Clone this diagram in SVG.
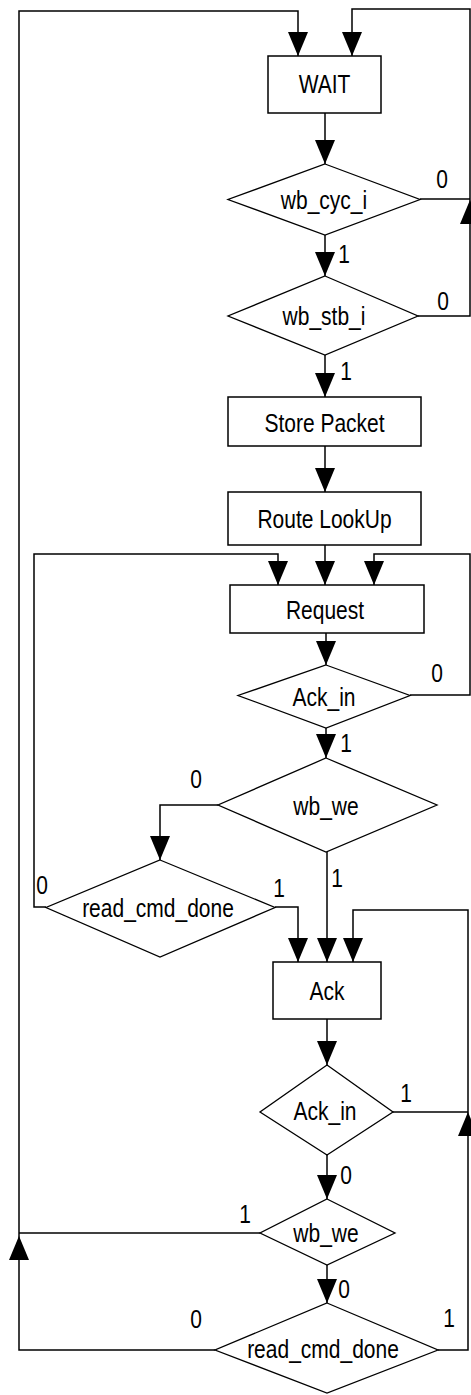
<svg xmlns="http://www.w3.org/2000/svg" width="471" height="1395" viewBox="0 0 471 1395">
<defs>
<style>
.bg{fill:#fff}
.box{fill:#fff;stroke:#000;stroke-width:1.5}
.dia{fill:#fff;stroke:#000;stroke-width:1.3}
.ln{fill:none;stroke:#000;stroke-width:1.5}
.ar{fill:none;stroke:#000;stroke-width:1.5;marker-end:url(#ah)}
text{font-family:"Liberation Sans",Arial,sans-serif;font-size:21px;fill:#000;text-anchor:middle}
</style>
<marker id="ah" markerUnits="userSpaceOnUse" markerWidth="24" markerHeight="20" refX="24" refY="10" orient="auto">
<path d="M0,0 L24,10 L0,20 z" fill="#000"/>
</marker>
</defs>
<rect class="bg" x="0" y="0" width="471" height="1395"/>
<g id="connectors">
<path class="ar" d="M215,1350 H19 V1236"/>
<path class="ar" d="M19,1236 V11 H298 V56"/>
<path class="ln" d="M260,1233 H19"/>
<path class="ar" d="M418,316 H470 V200"/>
<path class="ar" d="M470,200 V9 H352 V56"/>
<path class="ln" d="M420,199 H470"/>
<path class="ar" d="M325,113 V164"/>
<path class="ar" d="M325,235 V276"/>
<path class="ar" d="M325,355 V397"/>
<path class="ar" d="M325,446 V492"/>
<path class="ar" d="M325,545 V585"/>
<path class="ar" d="M46,907 H34 V554 H278 V585"/>
<path class="ar" d="M410,695 H470 V554 H374 V585"/>
<path class="ar" d="M326,633 V665"/>
<path class="ar" d="M326,728 V758"/>
<path class="ar" d="M218,805 H160 V860"/>
<path class="ar" d="M327,852 V962"/>
<path class="ar" d="M275,907 H298 V962"/>
<path class="ar" d="M438,1350 H468 V1112"/>
<path class="ar" d="M468,1112 V910 H353 V962"/>
<path class="ln" d="M393,1112 H468"/>
<path class="ar" d="M327,1019 V1065"/>
<path class="ar" d="M327,1155 V1199"/>
<path class="ar" d="M327,1265 V1303"/>
<g id="labels">
<text transform="translate(442,188) scale(1,1.2)">0</text>
<text transform="translate(344,263) scale(1,1.2)">1</text>
<text transform="translate(443,310) scale(1,1.2)">0</text>
<text transform="translate(346,380) scale(1,1.2)">1</text>
<text transform="translate(437,682) scale(1,1.2)">0</text>
<text transform="translate(346,752) scale(1,1.2)">1</text>
<text transform="translate(196,788) scale(1,1.2)">0</text>
<text transform="translate(42,894) scale(1,1.2)">0</text>
<text transform="translate(279,897) scale(1,1.2)">1</text>
<text transform="translate(337,887) scale(1,1.2)">1</text>
<text transform="translate(406,1102) scale(1,1.2)">1</text>
<text transform="translate(346,1184) scale(1,1.2)">0</text>
<text transform="translate(245,1223) scale(1,1.2)">1</text>
<text transform="translate(344,1298) scale(1,1.2)">0</text>
<text transform="translate(196,1328) scale(1,1.2)">0</text>
<text transform="translate(449,1327) scale(1,1.2)">1</text>
</g>
</g>
<g id="wait">
<rect class="box" x="268" y="56" width="113" height="57"/>
<text transform="translate(324.5,93) scale(1,1.2)">WAIT</text>
</g>
<g id="wb_cyc_i">
<polygon class="dia" points="325,164 420,199.5 325,235 228,199.5"/>
<text transform="translate(324,209) scale(1,1.2)">wb_cyc_i</text>
</g>
<g id="wb_stb_i">
<polygon class="dia" points="325,276 418,316 325,355 228,316"/>
<text transform="translate(324,325) scale(1,1.2)">wb_stb_i</text>
</g>
<g id="store_packet">
<rect class="box" x="228" y="397" width="193" height="49"/>
<text transform="translate(324.5,432) scale(1,1.2)">Store Packet</text>
</g>
<g id="route_lookup">
<rect class="box" x="228" y="492" width="193" height="53"/>
<text transform="translate(324.5,528) scale(1,1.2)">Route LookUp</text>
</g>
<g id="request">
<rect class="box" x="230" y="585" width="194" height="48"/>
<text transform="translate(325,619) scale(1,1.2)">Request</text>
</g>
<g id="ack_in_1">
<polygon class="dia" points="326,665 410,695.5 326,728 238,695.5"/>
<text transform="translate(324,706) scale(1,1.2)">Ack_in</text>
</g>
<g id="wb_we_1">
<polygon class="dia" points="326,758 437,805 326,852 218,805"/>
<text transform="translate(326,815) scale(1,1.2)">wb_we</text>
</g>
<g id="read_cmd_done_1">
<polygon class="dia" points="160,860 275,907.5 160,957 46,907.5"/>
<text transform="translate(158,917) scale(1,1.2)">read_cmd_done</text>
</g>
<g id="ack">
<rect class="box" x="273" y="962" width="108" height="57"/>
<text transform="translate(327,1000) scale(1,1.2)">Ack</text>
</g>
<g id="ack_in_2">
<polygon class="dia" points="327,1065 393,1112 327,1155 260,1112"/>
<text transform="translate(325,1120) scale(1,1.2)">Ack_in</text>
</g>
<g id="wb_we_2">
<polygon class="dia" points="327,1199 395,1233 327,1265 260,1233"/>
<text transform="translate(326,1242) scale(1,1.2)">wb_we</text>
</g>
<g id="read_cmd_done_2">
<polygon class="dia" points="327,1303 438,1350 327,1393 215,1350"/>
<text transform="translate(323,1358) scale(1,1.2)">read_cmd_done</text>
</g>
</svg>
